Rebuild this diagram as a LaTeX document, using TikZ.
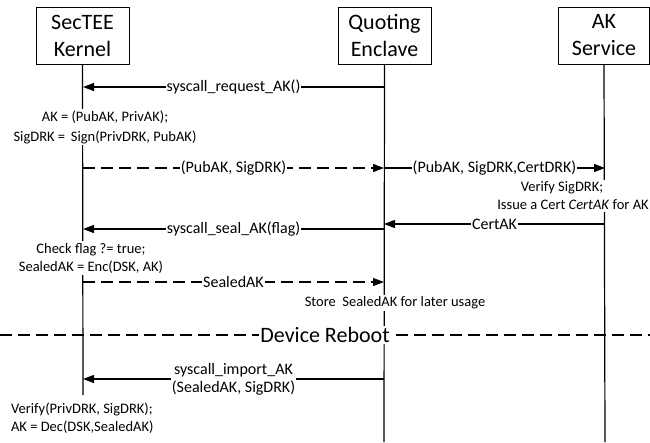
\documentclass[tikz,border=0pt]{standalone}
\usepackage{fontspec}
\setmainfont{Carlito}
\usetikzlibrary{arrows.meta}
\begin{document}
\begin{tikzpicture}[x=1pt,y=-1pt,
  every path/.style={line width=1.2pt},
  actor/.style={draw,line width=1pt,minimum width=93pt,minimum height=57pt,inner sep=0pt,
    align=center,font=\fontsize{22}{27}\selectfont},
  life/.style={line width=1.2pt},
  msg/.style={line width=1.2pt,-{Triangle[length=11pt,width=8pt]}},
  reply/.style={msg,dash pattern=on 12pt off 6pt},
  lbl/.style={fill=white,inner sep=1pt,font=\fontsize{16}{18}\selectfont,align=center},
  note/.style={fill=white,inner sep=1.5pt,font=\fontsize{14.5}{18}\selectfont,align=center}]
\useasboundingbox (0,0) rectangle (650,442);

% participants
\node[actor] (kern) at (82.5,35.5) {SecTEE\\Kernel};
\node[actor] (qe) at (384.5,35.5) {Quoting\\Enclave};
\node[actor,minimum width=91pt] (aks) at (604,35.5) {AK\\Service};

% lifeline ends
\coordinate (kEnd) at (83,395);
\coordinate (qEnd) at (384,442);
\coordinate (aEnd) at (605,442);
\draw[life] (kern.south) -- (kEnd);
\draw[life] (qe.south) -- (qEnd);
\draw[life] (aks.south) -- (aEnd);

% message anchors on the lifelines
\coordinate (k1) at (83,87);   \coordinate (q1) at (384,87);
\coordinate (k2) at (83,168);  \coordinate (q2) at (384,168);  \coordinate (a2) at (605,168);
\coordinate (q3) at (384,224); \coordinate (a3) at (605,224);
\coordinate (k4) at (83,229);  \coordinate (q4) at (384,229);
\coordinate (k5) at (83,282);  \coordinate (q5) at (384,282);
\coordinate (k6) at (83,379);  \coordinate (q6) at (384,379);

% messages
\draw[msg] (q1) -- node[lbl] (m1) {syscall\_request\_AK()} (k1);
\draw[reply] (k2) -- node[lbl] (m2) {(PubAK, SigDRK)} (q2);
\draw[msg] (q2) -- node[lbl] (m3) {(PubAK, SigDRK,CertDRK)} (a2);
\draw[msg] (a3) -- node[lbl] (m4) {CertAK} (q3);
\draw[msg] (q4) -- node[lbl] (m5) {syscall\_seal\_AK(flag)} (k4);
\draw[reply] (k5) -- node[lbl] (m6) {SealedAK} (q5);
\draw[msg] (q6) -- node[lbl] (m7) {syscall\_import\_AK\\(SealedAK, SigDRK)} (k6);

% local computations
\node[note,font=\fontsize{14.5}{20}\selectfont] (n1) at (105,127)
  {AK = (PubAK, PrivAK);\\SigDRK =\, Sign(PrivDRK, PubAK)};
\node[note] (n2) at (573,196)
  {Verify SigDRK;\hspace*{22pt}\\Issue a Cert \textit{CertAK} for AK};
\node[note] (n3) at (91,258) {Check flag ?= true;\\SealedAK = Enc(DSK, AK)};
\node[note] (n4) at (395,303) {Store\ \ SealedAK for later usage};
\node[note,anchor=west,align=left] (n5) at (9,418)
  {Verify(PrivDRK, SigDRK);\\AK = Dec(DSK,SealedAK)};

% reboot separator
\coordinate (rbL) at (0,335);
\coordinate (rbR) at (650,335);
\draw[dash pattern=on 12pt off 6pt] (rbL) -- node[fill=white,inner sep=1pt,
  font=\fontsize{22}{26}\selectfont] (reboot) {Device Reboot} (rbR);
\end{tikzpicture}
\end{document}
